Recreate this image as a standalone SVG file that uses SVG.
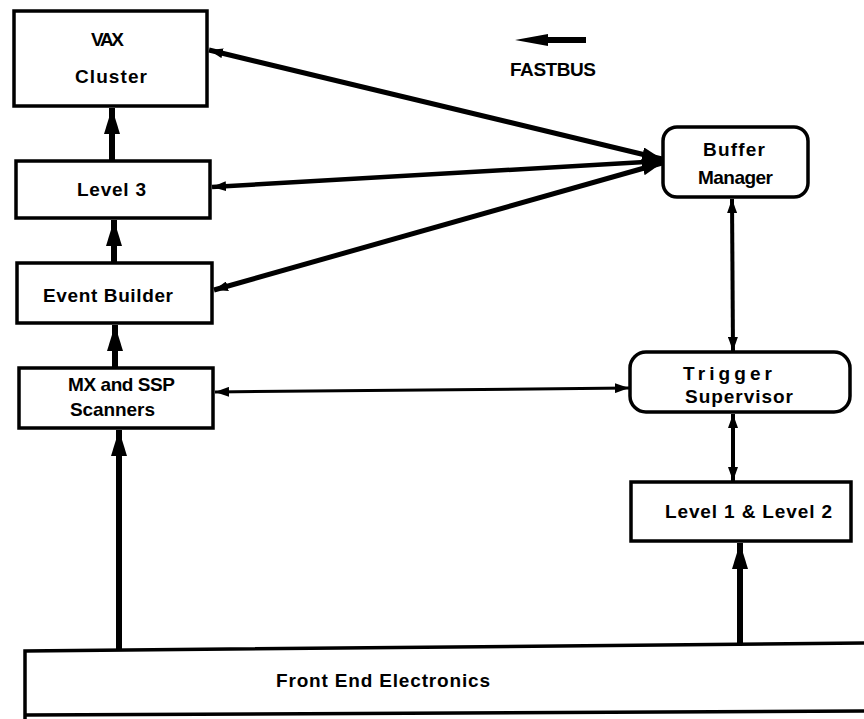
<svg xmlns="http://www.w3.org/2000/svg" width="864" height="719" viewBox="0 0 864 719">
<style>
.box{fill:#fff;stroke:#000;stroke-width:3.5}
.t{font-family:"Liberation Sans",Arial,sans-serif;font-weight:bold;font-size:19px;fill:#000;text-anchor:start}
.c{stroke:#000;fill:none;stroke-linecap:butt}
</style>
<defs>
<marker id="big" markerUnits="userSpaceOnUse" viewBox="0 0 26 16" refX="26" refY="8" markerWidth="26" markerHeight="16" orient="auto-start-reverse">
<path d="M0,0 L26,8 L0,16 z" fill="#000"/>
</marker>
<marker id="med" markerUnits="userSpaceOnUse" viewBox="0 0 20 14" refX="20" refY="7" markerWidth="20" markerHeight="14" orient="auto-start-reverse">
<path d="M0,0 L20,7 L0,14 z" fill="#000"/>
</marker>
<marker id="sm" markerUnits="userSpaceOnUse" viewBox="0 0 14 10" refX="14" refY="5" markerWidth="14" markerHeight="10" orient="auto-start-reverse">
<path d="M0,0 L14,5 L0,10 z" fill="#000"/>
</marker>
</defs>

<g id="connectors">
<line class="c" x1="112" y1="161" x2="112" y2="108" stroke-width="6" marker-end="url(#big)"/>
<line class="c" x1="114" y1="263" x2="114" y2="220" stroke-width="6" marker-end="url(#big)"/>
<line class="c" x1="115" y1="368" x2="115" y2="325" stroke-width="6" marker-end="url(#big)"/>
<line class="c" x1="119" y1="651" x2="119" y2="430" stroke-width="6" marker-end="url(#big)"/>
<line class="c" x1="740" y1="644" x2="740" y2="543" stroke-width="6" marker-end="url(#big)"/>
<line class="c" x1="732" y1="199" x2="733" y2="351" stroke-width="4" marker-start="url(#sm)" marker-end="url(#sm)"/>
<line class="c" x1="733" y1="414" x2="733" y2="481" stroke-width="4" marker-start="url(#sm)" marker-end="url(#sm)"/>
<line class="c" x1="209" y1="50" x2="662" y2="159" stroke-width="5" marker-start="url(#sm)" marker-end="url(#med)"/>
<line class="c" x1="212" y1="187" x2="662" y2="161" stroke-width="4.5" marker-start="url(#sm)" marker-end="url(#med)"/>
<line class="c" x1="214" y1="290" x2="662" y2="163" stroke-width="5" marker-start="url(#sm)" marker-end="url(#med)"/>
<line class="c" x1="215" y1="392" x2="629" y2="388" stroke-width="3" marker-start="url(#sm)" marker-end="url(#sm)"/>
<path d="M586,37 L548,37 L548,34 L515,40 L548,46 L548,43 L586,43 z" fill="#000"/>
</g>

<g id="vax">
<rect class="box" x="14" y="11" width="193" height="95"/>
<text class="t" x="91" y="46" font-size="16" textLength="33">VAX</text>
<text class="t" x="75" y="83" textLength="72">Cluster</text>
</g>
<g id="level3">
<rect class="box" x="16" y="161" width="194" height="57"/>
<text class="t" x="77" y="196" textLength="69">Level 3</text>
</g>
<g id="eventbuilder">
<rect class="box" x="17" y="263" width="195" height="60"/>
<text class="t" x="43" y="302" textLength="130">Event Builder</text>
</g>
<g id="mxssp">
<rect class="box" x="19" y="368" width="194" height="60"/>
<text class="t" x="68" y="391" textLength="107">MX and SSP</text>
<text class="t" x="70" y="416" textLength="85">Scanners</text>
</g>
<g id="buffermanager">
<rect class="box" x="663" y="127" width="145" height="70" rx="14"/>
<text class="t" x="703" y="156" textLength="62">Buffer</text>
<text class="t" x="698" y="184" textLength="75">Manager</text>
</g>
<g id="triggersupervisor">
<rect class="box" x="630" y="352" width="220" height="60" rx="16"/>
<text class="t" x="683" y="380" textLength="89">Trigger</text>
<text class="t" x="685" y="403" textLength="108">Supervisor</text>
</g>
<g id="level12">
<rect class="box" x="631" y="482" width="220" height="59"/>
<text class="t" x="665" y="518" textLength="167">Level 1 &amp; Level 2</text>
</g>
<g id="frontend">
<path d="M866,643 L25,651 L25,719 M25,715 L866,711" fill="none" stroke="#000" stroke-width="3.5"/>
<text class="t" x="276" y="687" textLength="214">Front End Electronics</text>
</g>
<g id="fastbus">
<text class="t" x="510" y="76" font-size="17" textLength="86">FASTBUS</text>
</g>
</svg>
